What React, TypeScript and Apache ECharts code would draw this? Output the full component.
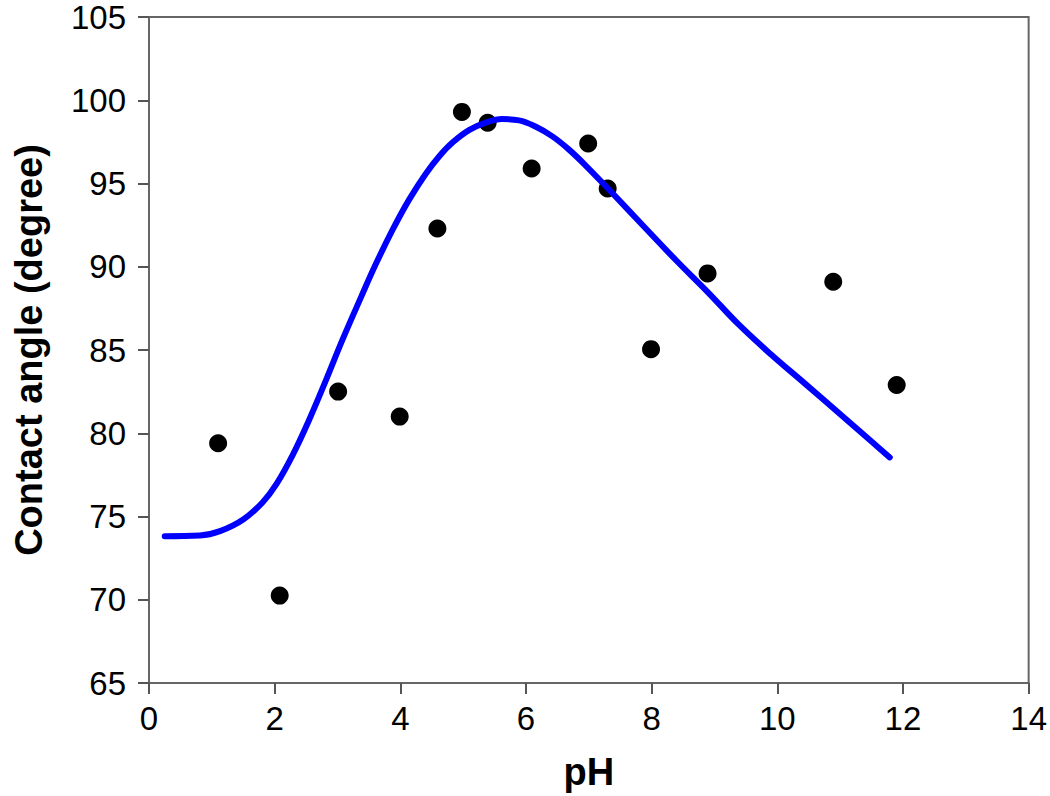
import React, { useEffect, useRef } from "react";
import * as echarts from "echarts";

// Fitted curve
const curvePH = [0.25, 0.81, 1.13, 1.5, 1.81, 2.03, 2.29, 2.56, 2.82, 3.08, 3.38, 3.61, 3.88, 4.14, 4.4, 4.62, 4.83, 5.1, 5.36, 5.62, 5.89, 6.15, 6.42, 6.68, 6.95, 7.32, 7.85, 8.38, 8.9, 9.38, 9.91, 10.44, 10.97, 11.5, 11.79];
const curveAngle = [73.82, 73.86, 74.12, 74.82, 75.86, 76.96, 78.72, 80.9, 83.22, 85.62, 88.22, 90.16, 92.24, 94.03, 95.56, 96.64, 97.46, 98.22, 98.66, 98.87, 98.79, 98.42, 97.83, 97.05, 96.08, 94.64, 92.52, 90.42, 88.45, 86.55, 84.7, 82.98, 81.24, 79.5, 78.55];

// Measured points
const pointPH = [1.1, 2.08, 3.01, 3.99, 4.59, 4.98, 5.39, 6.09, 6.99, 7.3, 7.99, 8.89, 10.89, 11.9];
const pointAngle = [79.4, 70.25, 82.5, 81.0, 92.3, 99.3, 98.65, 95.9, 97.4, 94.7, 85.05, 89.6, 89.1, 82.9];

const xTitle = "pH";
const yTitle = "Contact angle (degree)";

const FONT = "'Liberation Sans', Arial, Helvetica, sans-serif";

export default function App() {
  const ref = useRef<HTMLDivElement>(null);

  useEffect(() => {
    document.body.style.margin = "0";
    if (!ref.current) return;
    const chart = echarts.init(ref.current, undefined, { renderer: "svg" });
    const axisLine = { show: true, lineStyle: { color: "#666666", width: 2 } };
    const axisTick = { show: true, inside: false, length: 11, lineStyle: { color: "#555555", width: 2 } };
    chart.setOption({
      animation: false,
      backgroundColor: "#ffffff",
      grid: {
        left: 149,
        right: 18,
        top: 17,
        bottom: 113,
        show: true,
        borderColor: "#666666",
        borderWidth: 2,
        backgroundColor: "transparent",
      },
      xAxis: {
        type: "value",
        min: 0,
        max: 14,
        interval: 2,
        name: xTitle,
        nameLocation: "middle",
        nameGap: 70,
        nameTextStyle: { fontFamily: FONT, fontSize: 38, fontWeight: "bold", color: "#000" },
        axisLine,
        axisTick,
        splitLine: { show: false },
        axisLabel: { fontFamily: FONT, fontSize: 33, lineHeight: 30, color: "#000", margin: 20 },
      },
      yAxis: {
        type: "value",
        min: 65,
        max: 105,
        interval: 5,
        name: yTitle,
        nameLocation: "middle",
        nameGap: 101,
        nameRotate: 90,
        nameTextStyle: { fontFamily: FONT, fontSize: 38, fontWeight: "bold", color: "#000" },
        axisLine,
        axisTick,
        splitLine: { show: false },
        axisLabel: { fontFamily: FONT, fontSize: 33, lineHeight: 30, color: "#000", margin: 23 },
      },
      series: [
        {
          type: "scatter",
          data: pointPH.map((x, i) => [x, pointAngle[i]]),
          symbol: "circle",
          symbolSize: 18,
          itemStyle: { color: "#000000", opacity: 1 },
          z: 2,
        },
        {
          type: "line",
          data: curvePH.map((x, i) => [x, curveAngle[i]]),
          smooth: 0.4,
          showSymbol: false,
          symbol: "none",
          lineStyle: { color: "#0000ff", width: 6, cap: "round" },
          z: 3,
        },
      ],
    });
    return () => chart.dispose();
  }, []);

  return <div ref={ref} style={{ width: 1050, height: 796 }} />;
}
